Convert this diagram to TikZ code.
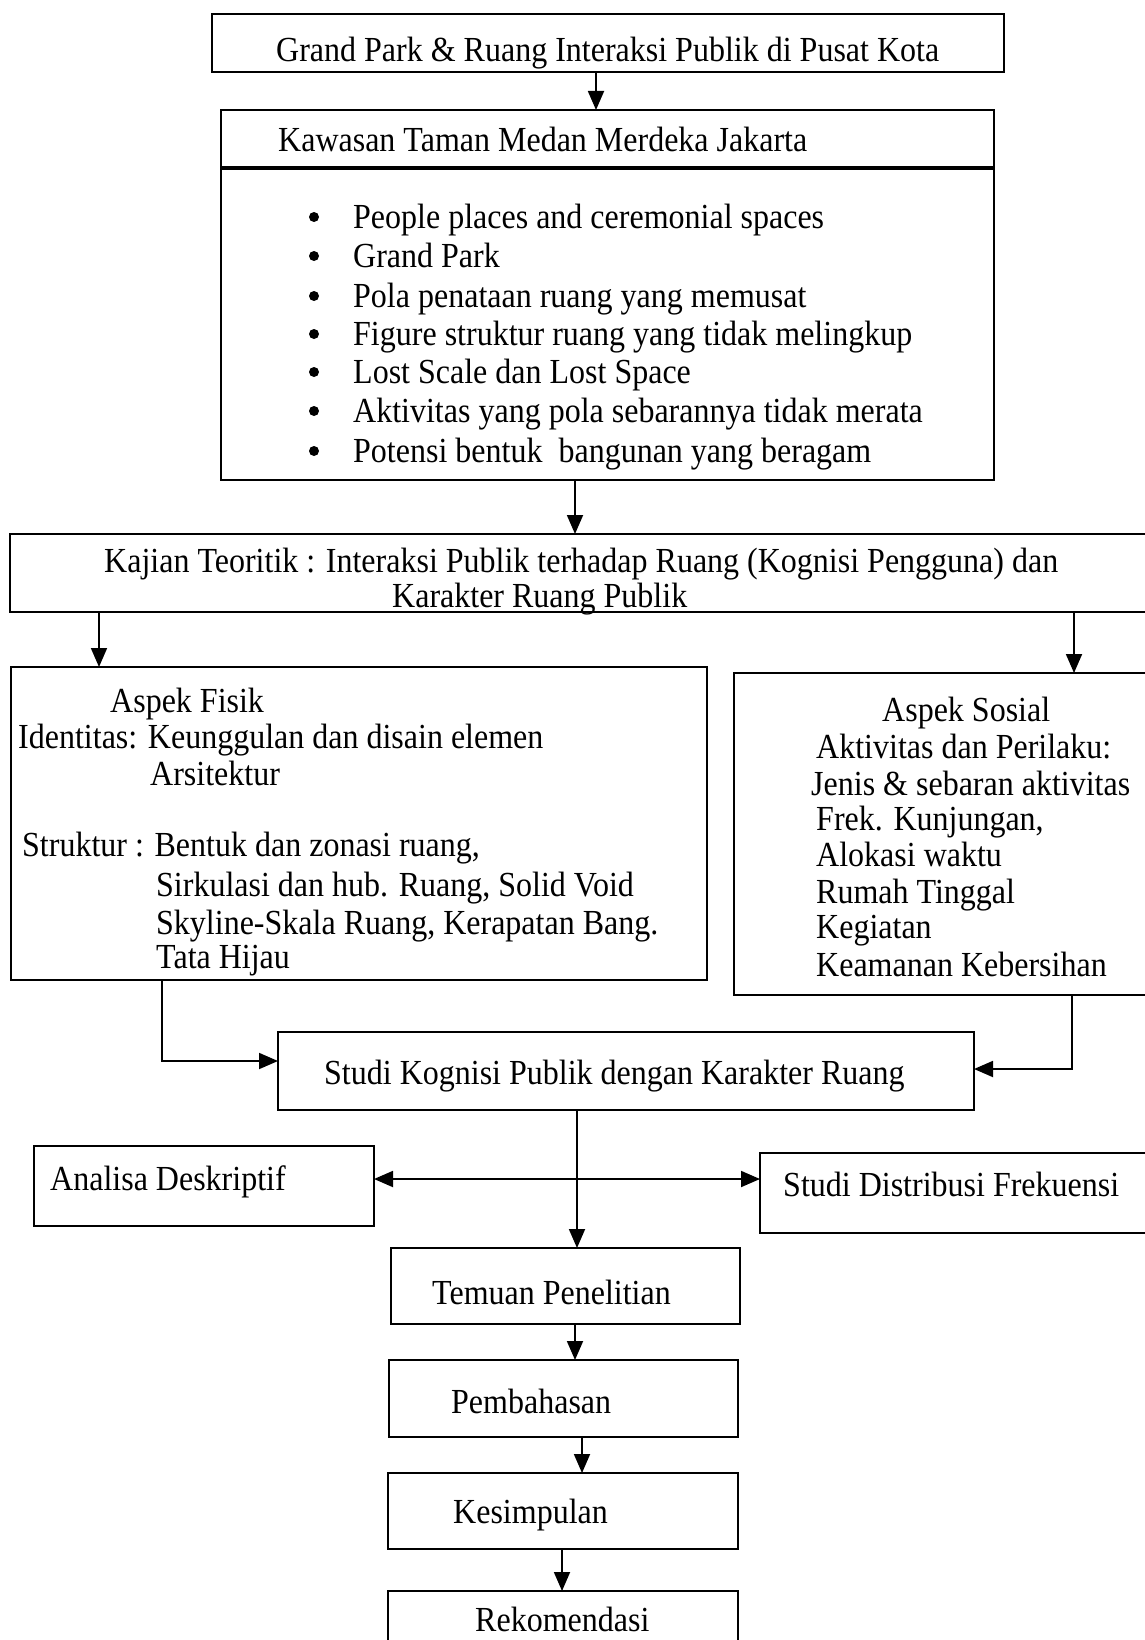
\documentclass[tikz,border=0pt]{standalone}
\usepackage{fontspec}
\setmainfont{Liberation Serif}
\usetikzlibrary{arrows.meta}
\begin{document}
\begin{tikzpicture}[x=1pt,y=-1pt,
  box/.style={draw, line width=2.4pt, rectangle, inner sep=0pt, outer sep=0pt, anchor=north west},
  txt/.style={inner sep=0pt, anchor=base west, yscale=1.1, font=\fontsize{32}{38}\selectfont},
  dot/.style={circle, fill, inner sep=0pt, minimum size=10pt},
  arr/.style={line width=1.8pt, -{Triangle[length=19pt,width=16pt]}},
  dbl/.style={line width=1.8pt, {Triangle[length=19pt,width=16pt]}-{Triangle[length=19pt,width=16pt]}}]
\useasboundingbox (0,0) rectangle (1145,1640);
\fill[white] (0,0) rectangle (1145,1640);
\clip (0,0) rectangle (1145,1640);

% boxes
\node[box, minimum width=792pt, minimum height=58pt] (b1) at (212,14) {};
\node[box, minimum width=773pt, minimum height=370pt] (b2) at (221,110) {};
\node[box, minimum width=1150pt, minimum height=78pt] (b3) at (10,534) {};
\node[box, minimum width=696pt, minimum height=313pt] (fis) at (11,667) {};
\node[box, minimum width=426pt, minimum height=322pt] (sos) at (734,673) {};
\node[box, minimum width=696pt, minimum height=78pt] (stu) at (278,1032) {};
\node[box, minimum width=340pt, minimum height=80pt] (ana) at (34,1146) {};
\node[box, minimum width=400pt, minimum height=80pt] (dis) at (760,1153) {};
\node[box, minimum width=349pt, minimum height=76pt] (tem) at (391,1248) {};
\node[box, minimum width=349pt, minimum height=77pt] (pem) at (389,1360) {};
\node[box, minimum width=350pt, minimum height=76pt] (kes) at (388,1473) {};
\node[box, minimum width=350pt, minimum height=69pt] (rek) at (388,1591) {};

% header rule in b2
\coordinate (hd) at (0,168);
\draw[line width=4pt] (b2.west |- hd) -- (b2.east |- hd);

% texts
\node[txt] (t1) at (276,62) {Grand Park \& Ruang Interaksi Publik di Pusat Kota};
\node[txt] (t2) at (278,152) {Kawasan Taman Medan Merdeka Jakarta};
\foreach \t/\yy [count=\i] in {
  People places and ceremonial spaces/228,
  Grand Park/267,
  Pola penataan ruang yang memusat/307,
  Figure struktur ruang yang tidak melingkup/345,
  Lost Scale dan Lost Space/383,
  Aktivitas yang pola sebarannya tidak merata/422,
  Potensi bentuk\ \ bangunan yang beragam/462}
  {\node[dot] (bu\i) at (314,\yy-11) {};
   \node[txt] (bl\i) at (353,\yy) {\t};}
\node[txt] (k1) at (104,572) {Kajian Teoritik : Interaksi Publik terhadap Ruang (Kognisi Pengguna) dan};
\node[txt] (k2) at (392,607) {Karakter Ruang Publik};

\node[txt] (f1) at (110,712) {Aspek Fisik};
\node[txt] (f2) at (18,748) {Identitas: Keunggulan dan disain elemen};
\node[txt] (f3) at (150,785) {Arsitektur};
\node[txt] (f4) at (22,856) {Struktur : Bentuk dan zonasi ruang,};
\node[txt] (f5) at (156,896) {Sirkulasi dan hub. Ruang, Solid Void};
\node[txt] (f6) at (156,934) {Skyline-Skala Ruang, Kerapatan Bang.};
\node[txt] (f7) at (156,968) {Tata Hijau};

\node[txt] (s1) at (882,721) {Aspek Sosial};
\node[txt] (s2) at (816,758) {Aktivitas dan Perilaku:};
\node[txt] (s3) at (811,795) {Jenis \& sebaran aktivitas};
\node[txt] (s4) at (816,830) {Frek. Kunjungan,};
\node[txt] (s5) at (816,866) {Alokasi waktu};
\node[txt] (s6) at (816,903) {Rumah Tinggal};
\node[txt] (s7) at (816,938) {Kegiatan};
\node[txt] (s8) at (816,976) {Keamanan Kebersihan};

\node[txt] (u1) at (324,1084) {Studi Kognisi Publik dengan Karakter Ruang};
\node[txt] (n1) at (50,1190) {Analisa Deskriptif};
\node[txt] (d1) at (783,1196) {Studi Distribusi Frekuensi};
\node[txt] (m1) at (432,1304) {Temuan Penelitian};
\node[txt] (p1) at (451,1413) {Pembahasan};
\node[txt] (e1) at (453,1523) {Kesimpulan};
\node[txt] (r1) at (475,1631) {Rekomendasi};

% connectors
\coordinate (c1) at (596,0);
\coordinate (c2) at (575,0);
\coordinate (c3) at (99,0);
\coordinate (c4) at (1074,0);
\coordinate (c5) at (162,1061);
\coordinate (c6) at (1072,1069);
\coordinate (c7) at (577,1179);
\coordinate (c8) at (575,0);
\coordinate (c9) at (582,0);
\coordinate (c10) at (562,0);

\draw[arr] (c1 |- b1.south) -- (c1 |- b2.north);
\draw[arr] (c2 |- b2.south) -- (c2 |- b3.north);
\draw[arr] (c3 |- b3.south) -- (c3 |- fis.north);
\draw[arr] (c4 |- b3.south) -- (c4 |- sos.north);
\draw[arr] (c5 |- fis.south) |- (stu.west |- c5);
\draw[arr] (c6 |- sos.south) |- (stu.east |- c6);
\draw[arr] (c7 |- stu.south) -- (c7 |- tem.north);
\draw[dbl] (ana.east |- c7) -- (dis.west |- c7);
\draw[arr] (c8 |- tem.south) -- (c8 |- pem.north);
\draw[arr] (c9 |- pem.south) -- (c9 |- kes.north);
\draw[arr] (c10 |- kes.south) -- (c10 |- rek.north);
\end{tikzpicture}
\end{document}
